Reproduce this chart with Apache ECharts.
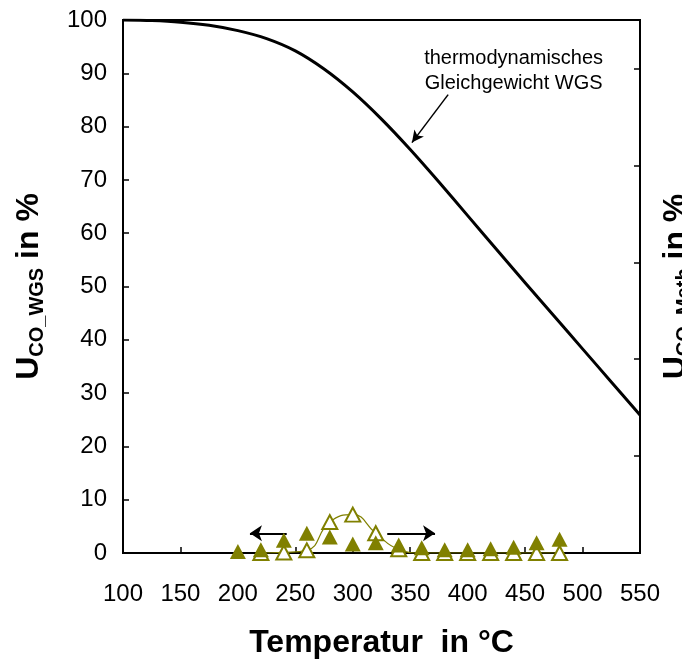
<!DOCTYPE html>
<html>
<head>
<meta charset="utf-8">
<script src="https://cdn.jsdelivr.net/npm/echarts@6/dist/echarts.min.js"></script>
<style>
  html, body { margin: 0; padding: 0; background: #fff; }
  #chart { width: 682px; height: 659px; }
</style>
</head>
<body>
<div id="chart"></div>
<script>
// thermodynamic equilibrium of WGS (black curve)
const eqTemp = [100, 125, 150, 175, 200, 225, 250, 275, 300, 325, 350, 375, 400, 425, 450, 475, 500, 525, 550]
const eqConv = [100, 99.9, 99.6, 99.0, 98.0, 96.5, 94.2, 90.8, 86.5, 81.4, 75.7, 69.6, 63.3, 57.0, 50.7, 44.5, 38.3, 32.1, 25.9]

// filled triangles
const fillTemp = [200, 220, 240, 260, 280, 300, 320, 340, 360, 380, 400, 420, 440, 460, 480]
const fillConv = [0.3, 0.6, 2.4, 3.7, 3.0, 1.7, 1.9, 1.5, 1.0, 0.6, 0.6, 0.8, 1.1, 1.9, 2.6]

// open triangles with smooth line
const openTemp = [220, 240, 260, 280, 300, 320, 340, 360, 380, 400, 420, 440, 460, 480]
const openConv = [0, 0.1, 0.5, 5.8, 7.2, 3.7, 0.7, 0, 0, 0, 0, 0, 0, 0]

const xTicks = [100, 150, 200, 250, 300, 350, 400, 450, 500, 550]

const olive = '#808000'
const font = 'Arial, "Liberation Sans", sans-serif'

const zip = (a, b) => a.map((v, i) => [v, b[i]])

const chart = echarts.init(document.getElementById('chart'), null, { renderer: 'canvas' })

const titleRich = {
  u: { fontSize: 32, fontWeight: 'bold', fontFamily: font, color: '#000', lineHeight: 36, verticalAlign: 'middle' },
  s: { fontSize: 20, fontWeight: 'bold', fontFamily: font, color: '#000', lineHeight: 17, verticalAlign: 'bottom' }
}

chart.setOption({
  animation: false,
  grid: {
    left: 123,
    right: 42,
    top: 20,
    bottom: 106,
    outerBoundsMode: 'none',
    containLabel: false,
    show: true,
    borderColor: '#000',
    borderWidth: 2
  },
  xAxis: {
    type: 'value',
    min: xTicks[0],
    max: xTicks[xTicks.length - 1],
    interval: 50,
    name: 'Temperatur  in °C',
    nameLocation: 'middle',
    nameGap: 74,
    nameTextStyle: { fontSize: 32, fontWeight: 'bold', fontFamily: font, color: '#000' },
    axisLine: { lineStyle: { color: '#000', width: 2 } },
    axisTick: { inside: true, length: 6, lineStyle: { color: '#000', width: 1.5 } },
    axisLabel: { fontSize: 24, fontFamily: font, color: '#000', margin: 29 },
    splitLine: { show: false }
  },
  yAxis: [
    {
      type: 'value',
      min: 0,
      max: 100,
      interval: 10,
      name: '{u|U}{s|CO_WGS}{u| in %}',
      nameLocation: 'middle',
      nameRotate: 90,
      nameGap: 76,
      nameTextStyle: { rich: titleRich },
      axisLine: { lineStyle: { color: '#000', width: 2 } },
      axisTick: { inside: true, length: 6, lineStyle: { color: '#000', width: 1.5 } },
      axisLabel: { fontSize: 24, fontFamily: font, color: '#000', margin: 16 },
      splitLine: { show: false }
    },
    {
      type: 'value',
      min: 0,
      max: 5.5,
      interval: 1,
      position: 'right',
      name: '{u|U}{s|CO_Meth}{u| in %}',
      nameLocation: 'middle',
      nameRotate: 90,
      nameGap: 18,
      nameTextStyle: { rich: titleRich },
      axisLine: { show: true, lineStyle: { color: '#000', width: 2 } },
      axisTick: { show: true, inside: true, length: 6, lineStyle: { color: '#000', width: 1.5 } },
      axisLabel: { show: false },
      splitLine: { show: false }
    }
  ],
  series: [
    {
      name: 'thermodynamisches Gleichgewicht WGS',
      type: 'line',
      data: zip(eqTemp, eqConv),
      smooth: 0.3,
      showSymbol: false,
      lineStyle: { color: '#000', width: 3, join: 'round' },
      z: 3,
      markLine: {
        silent: true,
        symbol: ['none', 'arrow'],
        symbolSize: [9, 12],
        label: { show: false },
        lineStyle: { color: '#000', width: 1.5, type: 'solid' },
        data: [[{ coord: [383, 86] }, { coord: [351.5, 77] }]]
      },
      markPoint: {
        silent: true,
        symbolSize: 0,
        label: {
          show: true,
          position: 'inside',
          formatter: 'thermodynamisches\nGleichgewicht WGS',
          fontSize: 20,
          lineHeight: 25,
          fontFamily: font,
          color: '#000',
          align: 'center'
        },
        data: [{ coord: [440, 90.5] }]
      }
    },
    {
      name: 'offen',
      type: 'line',
      data: zip(openTemp, openConv),
      smooth: 0.5,
      symbol: 'triangle',
      symbolSize: [15, 14],
      showAllSymbol: true,
      lineStyle: { color: olive, width: 1.2 },
      itemStyle: { color: '#fff', borderColor: olive, borderWidth: 2, opacity: 1 },
      z: 4
    },
    {
      name: 'gefüllt',
      type: 'scatter',
      data: zip(fillTemp, fillConv),
      symbol: 'triangle',
      symbolSize: [16, 15],
      itemStyle: { color: olive, opacity: 1 },
      z: 5,
      markLine: {
        silent: true,
        symbol: ['none', 'arrow'],
        symbolSize: [12, 12],
        label: { show: false },
        lineStyle: { color: '#000', width: 2, type: 'solid' },
        data: [
          [{ coord: [242.5, 3.7] }, { coord: [210.5, 3.7] }],
          [{ coord: [330, 3.7] }, { coord: [371.6, 3.7] }]
        ]
      }
    }
  ]
})
</script>
</body>
</html>
